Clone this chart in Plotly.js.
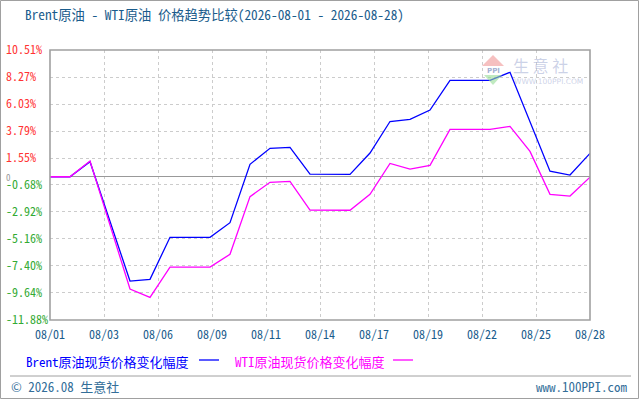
<!DOCTYPE html>
<html>
<head>
<meta charset="utf-8">
<script src="https://cdn.plot.ly/plotly-3.0.1.min.js"></script>
<style>html,body{margin:0;padding:0;background:#fff;}#chart{width:640px;height:400px;}</style>
</head>
<body>
<div id="chart"></div>
<script>
const dates = ['08/01','08/02','08/03','08/04','08/05','08/06','08/07','08/08','08/09','08/10','08/11','08/12','08/13','08/14','08/15','08/16','08/17','08/18','08/19','08/20','08/21','08/22','08/23','08/24','08/25','08/26','08/27','08/28'];
const brent = [0, 0, 1.25, -3.65, -8.65, -8.51, -5.02, -5.02, -5.02, -3.81, 1.03, 2.36, 2.44, 0.22, 0.20, 0.20, 1.97, 4.58, 4.76, 5.53, 7.99, 7.99, 7.99, 8.66, 4.56, 0.46, 0.14, 1.94];
const wti = [0, 0, 1.30, -3.95, -9.31, -10.00, -7.49, -7.49, -7.49, -6.43, -1.65, -0.46, -0.38, -2.76, -2.78, -2.78, -1.45, 1.10, 0.63, 0.94, 3.93, 3.93, 3.93, 4.18, 2.10, -1.46, -1.60, -0.04];
const xTickLabels = ['08/01','08/03','08/06','08/09','08/11','08/14','08/17','08/19','08/22','08/25','08/28'];
const yTickLabels = ['10.51%','8.27%','6.03%','3.79%','1.55%','0','-0.68%','-2.92%','-5.16%','-7.40%','-9.64%','-11.88%'];
const seriesNames = ['Brent原油现货价格变化幅度', 'WTI原油现货价格变化幅度'];
const titleText = 'Brent原油 - WTI原油 价格趋势比较(2026-08-01 - 2026-08-28)';

const FONT = "'Noto Sans Mono CJK SC', 'DejaVu Sans Mono', 'Noto Sans CJK SC', monospace";
const W = 640, H = 400, T = 50, B = 80;
const py = px => (H - B - px) / (H - T - B);   // pixel row -> paper y
const pxx = px => px / W;                        // pixel col -> paper x

const xIdx = dates.map((d, i) => i);
const n = dates.length - 1;
const xTickVals = xTickLabels.map((l, k) => k * n / (xTickLabels.length - 1));
const yTickVals = yTickLabels.map(s => parseFloat(s));
const yTickText = yTickLabels.map(s => {
  const v = parseFloat(s);
  if (v === 0) return '<span style="color:#999999;font-size:9px">' + s + '</span>';
  const c = v > 0 ? '#ff3333' : '#33aa33';
  return '<span style="color:' + c + '">' + s + '</span>';
});

const traces = [
  {x: xIdx, y: brent, name: seriesNames[0], type: 'scatter', mode: 'lines', line: {color: '#0000ff', width: 1.3}, hoverinfo: 'skip'},
  {x: xIdx, y: wti, name: seriesNames[1], type: 'scatter', mode: 'lines', line: {color: '#ff00ff', width: 1.3}, hoverinfo: 'skip'}
];

const layout = {
  width: W, height: H,
  margin: {l: 0, r: 0, t: T, b: B},
  paper_bgcolor: '#ffffff', plot_bgcolor: '#ffffff',
  showlegend: false,
  font: {family: FONT, size: 12, color: '#1a5c8c'},
  title: {text: titleText, xref: 'container', yref: 'container', x: 25 / W, xanchor: 'left', y: 1 - 15 / H, yanchor: 'middle', font: {family: FONT, size: 13.3, color: '#1a5c8c'}},
  xaxis: {
    domain: [50 / W, 590 / W], range: [0, n], fixedrange: true,
    tickvals: xTickVals, ticktext: xTickLabels, ticks: '', ticklabelstandoff: 6,
    showgrid: true, gridcolor: '#cccccc', griddash: '3px,3px', gridwidth: 1,
    zeroline: false, showline: false,
    tickfont: {family: FONT, size: 12, color: '#1a5c8c'}
  },
  yaxis: {
    anchor: 'free', position: 0, side: 'right', range: [-11.88, 10.51], fixedrange: true,
    tickvals: yTickVals, ticktext: yTickText, ticks: '', ticklabelstandoff: 5,
    showgrid: true, gridcolor: '#cccccc', griddash: '3px,3px', gridwidth: 1,
    zeroline: true, zerolinecolor: '#999999', zerolinewidth: 1.5, showline: false,
    tickfont: {family: FONT, size: 12, color: '#999999'}
  },
  shapes: [
    {type: 'rect', xref: 'x domain', yref: 'y domain', x0: 0, x1: 1, y0: 0, y1: 1, line: {color: '#a0a0a0', width: 1.6}, fillcolor: 'rgba(0,0,0,0)', layer: 'above'},
    {type: 'rect', xref: 'paper', yref: 'paper', x0: pxx(0.5), x1: pxx(638.5), y0: py(398.5), y1: py(0.5), line: {color: '#a0a0a0', width: 1}, fillcolor: 'rgba(0,0,0,0)'},
    {type: 'line', xref: 'paper', yref: 'paper', x0: pxx(10), x1: pxx(631), y0: py(376), y1: py(376), line: {color: '#a0a0a0', width: 1}},
    {type: 'line', xref: 'paper', yref: 'paper', x0: pxx(199), x1: pxx(219), y0: py(360), y1: py(360), line: {color: '#0000ff', width: 1.3}},
    {type: 'line', xref: 'paper', yref: 'paper', x0: pxx(393), x1: pxx(413), y0: py(360), y1: py(360), line: {color: '#ff00ff', width: 1.3}},
    // watermark logo
    {type: 'path', xref: 'paper', yref: 'paper', path: 'M ' + pxx(482) + ' ' + py(66) + ' L ' + pxx(493) + ' ' + py(55) + ' L ' + pxx(504) + ' ' + py(66) + ' Z', fillcolor: 'rgba(240,150,150,0.6)', line: {width: 0}},
    {type: 'path', xref: 'paper', yref: 'paper', path: 'M ' + pxx(484) + ' ' + py(75) + ' L ' + pxx(502) + ' ' + py(75) + ' L ' + pxx(493) + ' ' + py(85) + ' Z', fillcolor: 'rgba(150,220,150,0.6)', line: {width: 0}}
  ],
  annotations: [
    {xref: 'paper', yref: 'paper', x: pxx(24), y: py(361), xanchor: 'left', yanchor: 'middle', showarrow: false, text: seriesNames[0], font: {family: FONT, size: 13, color: '#0000ff'}},
    {xref: 'paper', yref: 'paper', x: pxx(233), y: py(361), xanchor: 'left', yanchor: 'middle', showarrow: false, text: seriesNames[1], font: {family: FONT, size: 13, color: '#ff00ff'}},
    {xref: 'paper', yref: 'paper', x: pxx(9), y: py(386), xanchor: 'left', yanchor: 'middle', showarrow: false, text: '© 2026.08 生意社', font: {family: FONT, size: 13, color: '#336e99'}},
    {xref: 'paper', yref: 'paper', x: pxx(630), y: py(386), xanchor: 'right', yanchor: 'middle', showarrow: false, text: 'www.100PPI.com', font: {family: FONT, size: 13, color: '#336e99'}},
    {xref: 'paper', yref: 'paper', x: pxx(493), y: py(70.5), xanchor: 'center', yanchor: 'middle', showarrow: false, text: '<b>PPI</b>', font: {family: 'DejaVu Sans', size: 7, color: 'rgba(120,140,190,0.7)'}},
    {xref: 'paper', yref: 'paper', x: pxx(511), y: py(65), xanchor: 'left', yanchor: 'middle', showarrow: false, text: '生 意 社', font: {family: "'Noto Sans CJK SC'", size: 16, color: 'rgba(170,180,215,0.6)'}},
    {xref: 'paper', yref: 'paper', x: pxx(512), y: py(82), xanchor: 'left', yanchor: 'middle', showarrow: false, text: 'WWW.100PPI.COM', font: {family: 'DejaVu Sans', size: 7.5, color: 'rgba(170,180,215,0.6)'}}
  ]
};

Plotly.newPlot('chart', traces, layout, {staticPlot: true, displayModeBar: false});
</script>
</body>
</html>
